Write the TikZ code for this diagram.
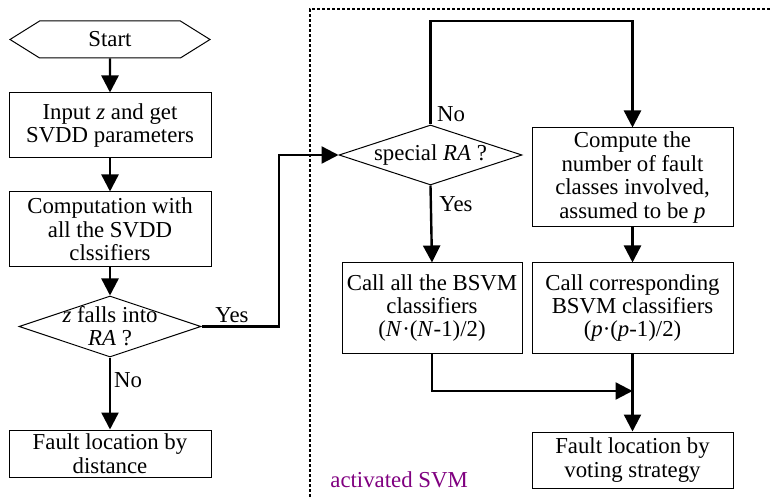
\documentclass[tikz,border=0pt]{standalone}
\usepackage{fontspec}
\setmainfont{Liberation Serif}
\usetikzlibrary{arrows.meta,shapes.geometric,shapes.symbols,positioning}

\definecolor{svmpurple}{RGB}{128,0,128}

\tikzset{
  txt/.style={font=\fontsize{11.4}{11.7}\selectfont, align=center, inner sep=0pt},
  stepbox/.style={txt, draw, line width=0.5pt, rectangle},
  decision/.style={draw, line width=0.5pt, diamond, inner sep=0pt},
  terminal/.style={txt, draw, line width=0.5pt, signal, signal to=west and east,
    signal pointer angle=64},
  flow/.style={line width=1.2pt, -{Triangle[length=8.5pt,width=8.5pt]}},
  region/.style={line width=0.6pt, dash pattern=on 1.5pt off 1pt}
}

\begin{document}
\begin{tikzpicture}[x=0.5pt,y=-0.5pt]
\useasboundingbox (0,0) rectangle (771,497);

% left branch
\node (start) [terminal, minimum width=100pt, minimum height=18.5pt] at (110,39.5) {Start};
\node (input) [stepbox, minimum width=101pt, minimum height=32.5pt] at (110,125.5)
  {Input \textit{z} and get\\SVDD parameters};
\node (comp) [stepbox, minimum width=101pt, minimum height=37.5pt] at (110,229.5)
  {Computation with\\all the SVDD\\clssifiers};
\node (zin) [decision, minimum width=91pt, minimum height=30.5pt] at (110,326.5) {};
\node (zintxt) [txt] at (110,326) {\textit{z} falls into\\\textit{RA} ?};
\node (fdist) [stepbox, minimum width=101pt, minimum height=23.5pt] at (110,453.5)
  {Fault location by\\distance};

% activated SVM region
\coordinate (rb) at (310,497);
\coordinate (rc) at (310,9);
\coordinate (rr) at (771,9);
\draw[region] (rb) -- (rc) -- (rr);
\node (svm) [txt, text=svmpurple, anchor=west] at (330,480) {activated SVM};

% right branch
\node (spec) [decision, minimum width=91.5pt, minimum height=30pt] at (430.5,155) {};
\node (spectxt) [txt] at (430.5,155) {special \textit{RA} ?};
\node (count) [stepbox, minimum width=100.5pt, minimum height=49.5pt] at (632.5,177.5)
  {Compute the\\number of fault\\classes involved,\\assumed to be \textit{p}};
\node (callall) [stepbox, minimum width=90pt, minimum height=45pt] at (432,308)
  {Call all the BSVM\\classifiers\\(\textit{N}·(\textit{N}-1)/2)};
\node (callp) [stepbox, minimum width=100.5pt, minimum height=45pt] at (632.5,308)
  {Call corresponding\\BSVM classifiers\\(\textit{p}·(\textit{p}-1)/2)};
\node (vote) [stepbox, minimum width=100.5pt, minimum height=28pt] at (632.5,460)
  {Fault location by\\voting strategy};

% connectors
\coordinate (yturn) at (279,326.5);
\coordinate (nturn) at (430.5,21);
\coordinate (merge) at (632.5,391);

\draw[flow] (start) -- (input);
\draw[flow] (input) -- (comp);
\draw[flow] (comp) -- (zin);
\draw[flow] (zin.south) -- (fdist.north);
\draw[flow] (zin.east) -- (yturn) |- (spec.west);
\draw[flow] (spec.north) -- (nturn) -| (count.north);
\draw[flow] (spec.south) -- (callall.north);
\draw[flow] (count) -- (callp);
\draw[flow] (callall.south) |- (merge);
\draw[flow] (callp) -- (vote);

% branch labels
\node (yes1) [txt] at (232,315) {Yes};
\node (no1) [txt] at (128,380) {No};
\node (no2) [txt] at (451,114) {No};
\node (yes2) [txt] at (456,204) {Yes};
\end{tikzpicture}
\end{document}
